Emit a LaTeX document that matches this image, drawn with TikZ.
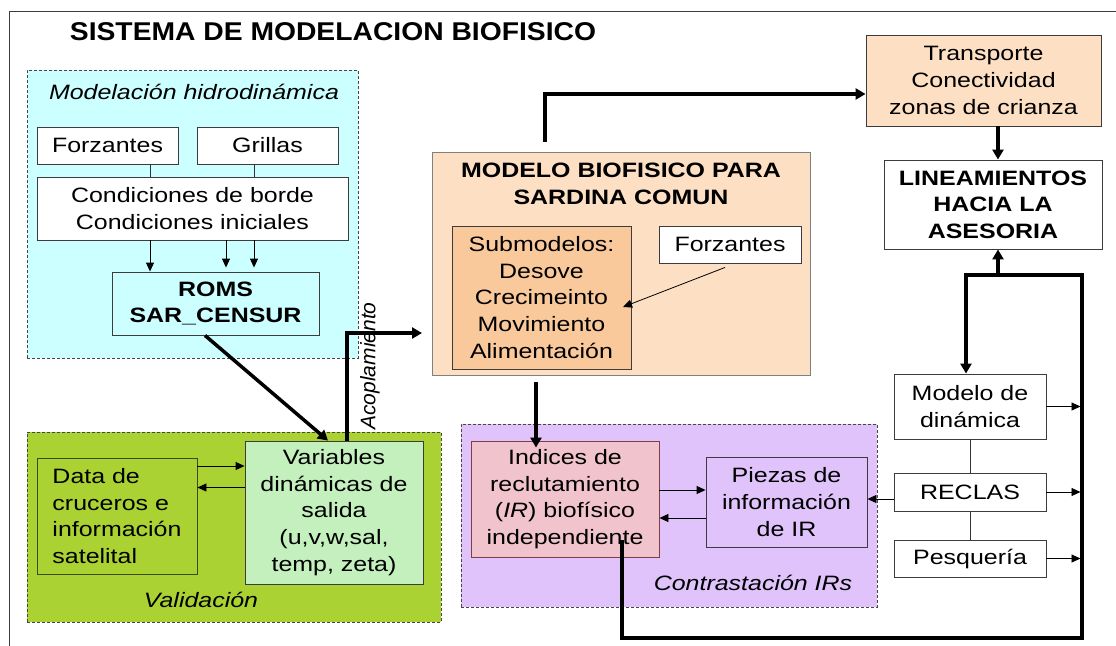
\documentclass[tikz,border=0pt]{standalone}
\usepackage{fontspec}
\setmainfont{Liberation Sans}[FakeStretch=1.2]
\newfontfamily\plainfont{Liberation Sans}
\newfontfamily\titlefont{Liberation Sans}[FakeStretch=1.1]
\usetikzlibrary{arrows.meta}
\definecolor{cyanfill}{RGB}{204,255,255}
\definecolor{greenfill}{RGB}{170,210,50}
\definecolor{vargreen}{RGB}{196,240,190}
\definecolor{peach}{RGB}{253,224,196}
\definecolor{peachdark}{RGB}{249,200,155}
\definecolor{purplefill}{RGB}{223,195,250}
\definecolor{pinkfill}{RGB}{240,195,205}
\definecolor{indborder}{RGB}{130,60,70}
\definecolor{darkolive}{RGB}{60,75,20}
\definecolor{boxgray}{RGB}{60,60,60}
\definecolor{grpgray}{RGB}{70,70,70}
\newcommand{\normtext}{\fontsize{20.8}{26.6}\selectfont}
\newcommand{\titletext}{\titlefont\fontsize{25.7}{30}\selectfont\bfseries}
\newcommand{\acopfont}{\plainfont\itshape\fontsize{21}{24}\selectfont}
\begin{document}
\begin{tikzpicture}[x=1pt,y=-1pt,
  bx/.style 2 args={minimum width=#1pt, minimum height=#2pt},
  bbox/.style={draw=boxgray, line width=0.9pt, inner sep=0pt, align=center, font=\normtext},
  grp/.style={draw=grpgray, line width=0.8pt, dash pattern=on 3pt off 2pt, inner sep=0pt},
  lbl/.style={font=\normtext\itshape, inner sep=0pt},
  smallarrow/.style={draw=black, line width=0.9pt, -{Triangle[length=9pt,width=8pt]}},
  bigarrow/.style={draw=black, line width=3.5pt, -{Triangle[length=10pt,width=11pt]}},
  plainline/.style={draw=black!80, line width=0.9pt}]
\fill[white] (0,0) rectangle (1116,645);
\useasboundingbox (0,0) rectangle (1116,645);
\draw[boxgray, line width=1pt] (9,650) -- (9,11) -- (1120,11);

\node[font=\titletext, anchor=base, inner sep=0pt] (title) at (333,40) {SISTEMA DE MODELACION BIOFISICO};

% groups
\node[grp, fill=cyanfill, bx={331}{288}] (ghid) at (192.5,214) {};
\node[grp, fill=greenfill, bx={414}{190}] (gval) at (234,527) {};
\node[grp, fill=purplefill, bx={416}{183}] (gcon) at (669,515.5) {};
\node[lbl, anchor=base] (lhid) at (194,99) {Modelación hidrodinámica};
\node[lbl, anchor=base] (lval) at (201,607) {Validación};
\node[lbl, anchor=base] (lcon) at (753,590) {Contrastación IRs};

% hydrodynamic
\node[bbox, fill=white, bx={141}{37}] (forz1) at (107.5,145.5) {Forzantes};
\node[bbox, fill=white, bx={141}{37}] (grill) at (267.5,145.5) {Grillas};
\node[bbox, fill=white, bx={311}{63}] (cond) at (192.5,208.5) {Condiciones de borde\\Condiciones iniciales};
\node[bbox, fill=cyanfill, bx={207}{63}, font=\normtext\bfseries] (roms) at (215.5,303.5) {ROMS\\SAR\_CENSUR};
\coordinate (c150) at (150,0);
\coordinate (c226) at (226,0);
\coordinate (c254) at (254,0);
\draw[plainline] (forz1.south -| c150) -- (cond.north -| c150);
\draw[plainline] (grill.south -| c254) -- (cond.north -| c254);
\draw[smallarrow] (cond.south -| c150) -- (roms.north -| c150);
\draw[smallarrow, shorten >=4pt] (cond.south -| c226) -- (roms.north -| c226);
\draw[smallarrow, shorten >=4pt] (cond.south -| c254) -- (roms.north -| c254);

% validation
\node[bbox, fill=greenfill, draw=darkolive, bx={160}{116}, align=left] (data) at (117,516) {Data de\\cruceros e\\información\\satelital};
\node[bbox, fill=vargreen, bx={178}{143}] (var) at (334,512.5) {Variables\\dinámicas de\\salida\\(u,v,w,sal,\\temp, zeta)};
\draw[smallarrow] ([yshift=50pt]data.east) -- ([yshift=50pt]data.east -| var.west);
\draw[smallarrow] ([yshift=25pt]var.west) -- ([yshift=25pt]var.west -| data.east);
\draw[bigarrow] ([xshift=-10.5pt]roms.south) -- ([xshift=-6pt]var.north);

% biophysical model
\node[bbox, draw=gray, fill=peach, bx={378}{223}] (modelo) at (621,263.5) {};
\node[font=\normtext\bfseries, align=center, inner sep=0pt] (mtitle) at (621,184) {MODELO BIOFISICO PARA\\SARDINA COMUN};
\node[bbox, fill=peachdark, bx={179}{143}] (sub) at (541.5,297.5) {Submodelos:\\Desove\\Crecimeinto\\Movimiento\\Alimentación};
\node[bbox, fill=white, bx={142}{37}] (forz2) at (730,244.5) {Forzantes};
\coordinate (subpt) at (623,307);
\draw[smallarrow, line width=0.8pt] ([xshift=-5pt,yshift=-4pt]forz2.south) -- (subpt);

\coordinate (acopEnd) at (422,333);
\draw[bigarrow] ([xshift=13pt]var.north) |- (acopEnd);
\node[rotate=90, font=\acopfont, inner sep=0pt] (lacop) at (370,366) {Acoplamiento};

% right column
\node[bbox, fill=peach, bx={235}{91}] (trans) at (983.5,80.5) {Transporte\\Conectividad\\zonas de crianza};
\node[bbox, fill=white, bx={218}{89}, font=\normtext\bfseries] (lin) at (993,204.5) {LINEAMIENTOS\\HACIA LA\\ASESORIA};
\draw[bigarrow] ([xshift=-76pt,yshift=10pt]modelo.north) |- ([yshift=-13.5pt]trans.west);
\coordinate (c998) at (998,0);
\draw[bigarrow] (trans.south -| c998) -- (lin.north -| c998);

\node[bbox, fill=white, bx={152}{65}] (md) at (970,406.5) {Modelo de\\dinámica};
\node[bbox, fill=white, bx={152}{38}] (reclas) at (970,492) {RECLAS};
\node[bbox, fill=white, bx={152}{37}] (pesq) at (970,558.5) {Pesquería};
\draw[plainline] (md.south) -- (reclas.north);
\draw[plainline] (reclas.south) -- (pesq.north);

% contrast
\node[bbox, fill=pinkfill, draw=indborder, bx={188}{116}] (ind) at (565,499) {Indices de\\reclutamiento\\(\textit{IR}) biofísico\\independiente};
\node[bbox, fill=purplefill, bx={161}{90}] (piezas) at (786.5,502) {Piezas de\\información\\de IR};
\draw[smallarrow] ([yshift=9pt]ind.east) -- ([yshift=9pt]ind.east -| piezas.west);
\draw[smallarrow] ([yshift=-16pt]piezas.west) -- ([yshift=-16pt]piezas.west -| ind.east);
\draw[smallarrow] ([yshift=-7pt]reclas.west) -- ([yshift=-7pt]reclas.west -| piezas.east);
\draw[bigarrow] ([xshift=-85pt,yshift=-7pt]modelo.south) -- ([xshift=-85pt,yshift=-7pt]modelo.south |- ind.north);

% feedback loop
\coordinate (lstart) at (622,540);
\coordinate (lb1) at (622,638);
\coordinate (lb2) at (1082,638);
\coordinate (jR) at (1082,275);
\coordinate (jL) at (966,275);
\coordinate (jM) at (998,275);
\draw[bigarrow] (lstart) -- (lb1) -- (lb2) -- (jR) -- (jL) -- (jL |- md.north);
\draw[bigarrow] (jM) -- (jM |- lin.south);
\draw[smallarrow, shorten >=1.5pt] (md.east) -- (md.east -| jR);
\draw[smallarrow, shorten >=1.5pt] (reclas.east) -- (reclas.east -| jR);
\draw[smallarrow, shorten >=1.5pt] (pesq.east) -- (pesq.east -| jR);
\end{tikzpicture}
\end{document}
